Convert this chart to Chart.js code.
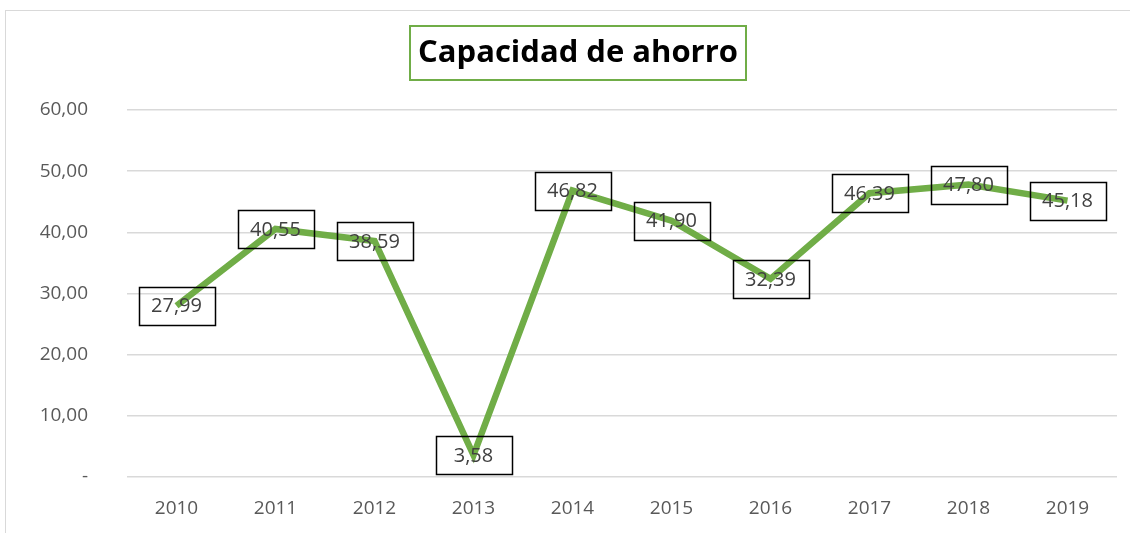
<!DOCTYPE html>
<html lang="es">
<head>
  <meta charset="UTF-8" />
  <title>Capacidad de ahorro</title>
  <script src="https://cdn.jsdelivr.net/npm/chart.js"></script>
  <style>
    body {
      margin: 0;
      background: #ffffff;
    }
    .frame {
      position: absolute;
      left: 5px;
      top: 10px;
      width: 1140px;
      height: 540px;
      border: 1px solid #d9d9d9;
    }
    .wrap {
      position: absolute;
      left: 0;
      top: 0;
      width: 1130px;
      height: 533px;
    }
  </style>
</head>
<body>
  <div class="frame"></div>
  <div class="wrap">
    <canvas id="savingsChart" width="1130" height="533"></canvas>
  </div>

  <script>
    const years = ['2010', '2011', '2012', '2013', '2014', '2015', '2016', '2017', '2018', '2019'];
    const savings = [27.99, 40.55, 38.59, 3.58, 46.82, 41.90, 32.39, 46.39, 47.80, 45.18];
    const yTicks = [0, 10, 20, 30, 40, 50, 60];
    const chartTitle = 'Capacidad de ahorro';

    const fontFamily = "'Open Sans', 'Noto Sans', sans-serif";

    function fmt(v) {
      if (v === 0) return '-';
      return v.toFixed(2).replace('.', ',');
    }

    // boxed value labels centred on every point
    const boxedLabels = {
      id: 'boxedLabels',
      afterDatasetsDraw(chart) {
        const ctx = chart.ctx;
        const meta = chart.getDatasetMeta(0);
        ctx.save();
        ctx.font = '20px ' + fontFamily;
        ctx.textAlign = 'center';
        ctx.textBaseline = 'middle';
        meta.data.forEach((pt, i) => {
          const txt = fmt(savings[i]);
          const w = 76, h = 38;
          ctx.lineWidth = 1.5;
          ctx.strokeStyle = '#000000';
          ctx.strokeRect(Math.round(pt.x - w / 2) + 0.5, Math.round(pt.y - h / 2) + 0.5, w, h);
          ctx.fillStyle = '#404040';
          ctx.fillText(txt, pt.x, pt.y + 1);
        });
        ctx.restore();
      }
    };

    // title text inside a green frame
    const titleBox = {
      id: 'titleBox',
      afterDraw(chart) {
        const ctx = chart.ctx;
        ctx.save();
        ctx.strokeStyle = '#70AD47';
        ctx.lineWidth = 2;
        ctx.strokeRect(410, 26, 336, 54);
        ctx.font = 'bold 31px ' + fontFamily;
        ctx.fillStyle = '#000000';
        ctx.textAlign = 'center';
        ctx.textBaseline = 'middle';
        ctx.fillText(chartTitle, 578, 53);
        ctx.restore();
      }
    };

    const ctx = document.getElementById('savingsChart').getContext('2d');
    new Chart(ctx, {
      type: 'line',
      data: {
        labels: years,
        datasets: [{
          data: savings,
          borderColor: '#70AD47',
          borderWidth: 6.5,
          pointRadius: 0,
          tension: 0,
          fill: false
        }]
      },
      options: {
        responsive: false,
        animation: false,
        layout: {
          padding: { left: 0, right: 13, top: 110, bottom: 0 }
        },
        plugins: {
          legend: { display: false },
          tooltip: { enabled: false },
          title: { display: false }
        },
        scales: {
          x: {
            offset: true,
            afterFit(scale) { scale.height = 56; },
            grid: { display: false },
            border: { display: false },
            ticks: {
              color: '#595959',
              font: { family: fontFamily, size: 19 },
              padding: 12
            }
          },
          y: {
            min: 0,
            max: 60,
            afterFit(scale) { scale.width = 127; },
            afterBuildTicks(scale) { scale.ticks = yTicks.map(v => ({ value: v })); },
            grid: { color: '#d9d9d9', lineWidth: 1.5, drawTicks: false },
            border: { display: false },
            ticks: {
              color: '#595959',
              font: { family: fontFamily, size: 19 },
              padding: 39,
              callback: v => fmt(v)
            }
          }
        }
      },
      plugins: [boxedLabels, titleBox]
    });
  </script>
</body>
</html>
